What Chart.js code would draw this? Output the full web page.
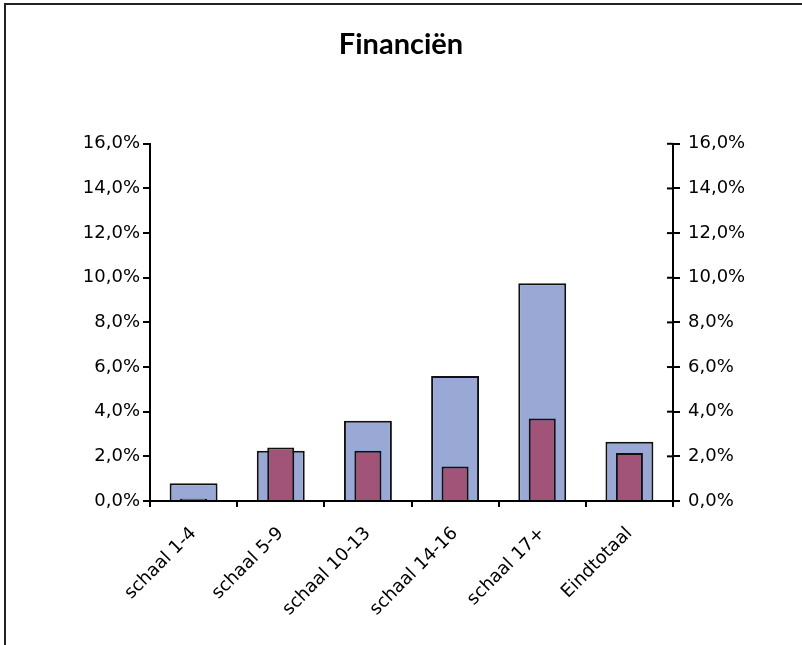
<!DOCTYPE html>
<html>
<head>
<meta charset="utf-8">
<script src="https://cdn.jsdelivr.net/npm/chart.js@4/dist/chart.umd.min.js"></script>
<style>
    body { margin: 0; background: #fff; overflow: hidden; }
    #wrap { position: relative; width: 802px; height: 645px; }
    #frame { position: absolute; left: 4px; top: 3px; width: 900px; height: 900px;
             border-left: 2px solid #222; border-top: 2px solid #222; pointer-events: none; }
    canvas { position: absolute; left: 0; top: 0; }
</style>
</head>
<body>
<div id="wrap">
    <canvas id="chart" width="802" height="645"></canvas>
    <div id="frame"></div>
</div>
<script>
// 데이터
const categories = ['schaal 1-4', 'schaal 5-9', 'schaal 10-13', 'schaal 14-16', 'schaal 17+', 'Eindtotaal'];
const seriesBlue = [0.8, 2.25, 3.6, 5.6, 9.75, 2.65];
const seriesRed = [0.1, 2.4, 2.25, 1.55, 3.7, 2.15];
const tickMin = 0;
const tickMax = 16;
const tickStep = 2;

const FONT = '"DejaVu Sans", sans-serif';
const pct = v => v.toFixed(1).replace('.', ',') + '%';

const yAxis = (pos, w, pad) => ({
    position: pos,
    min: tickMin,
    max: tickMax,
    ticks: { stepSize: tickStep, callback: pct, color: '#000', padding: pad,
             font: { family: FONT, size: 18 } },
    grid: { drawOnChartArea: false, color: '#000', lineWidth: 2, tickLength: 7 },
    border: { display: true, color: '#000', width: 2 },
    afterFit: s => { s.width = w; }
});

// 오른쪽 축 눈금이 축을 가로지르도록 안쪽 절반 그리기
const crossTicks = {
    id: 'crossTicks',
    afterDraw(chart) {
        const s = chart.scales.y2;
        const ctx = chart.ctx;
        ctx.save();
        ctx.strokeStyle = '#000';
        ctx.lineWidth = 2;
        s.ticks.forEach(t => {
            const y = s.getPixelForValue(t.value);
            ctx.beginPath();
            ctx.moveTo(s.left - 6, y);
            ctx.lineTo(s.left, y);
            ctx.stroke();
        });
        ctx.restore();
    }
};

new Chart(document.getElementById('chart'), {
    type: 'bar',
    data: {
        labels: categories,
        datasets: [
            { label: 'A', data: seriesBlue, backgroundColor: '#99A8D5', borderColor: '#111',
              borderWidth: 2, barPercentage: 0.55, categoryPercentage: 1, grouped: false,
              order: 2, yAxisID: 'y' },
            { label: 'B', data: seriesRed, backgroundColor: '#A15478', borderColor: '#111',
              borderWidth: 2, barPercentage: 0.31, categoryPercentage: 1, grouped: false,
              order: 1, yAxisID: 'y2' }
        ]
    },
    options: {
        responsive: false,
        animation: false,
        layout: { padding: 0 },
        plugins: {
            legend: { display: false },
            tooltip: { enabled: false },
            title: {
                display: true,
                text: 'Financiën',
                color: '#000',
                font: { family: 'Lato, sans-serif', size: 29, weight: 'bold' },
                padding: { top: 27, bottom: 82 }
            }
        },
        scales: {
            x: {
                ticks: { color: '#000', minRotation: 45, maxRotation: 45, padding: 16,
                         font: { family: FONT, size: 18 } },
                grid: { drawOnChartArea: false, color: '#000', lineWidth: 2, tickLength: 6, offset: true },
                border: { display: true, color: '#000', width: 2 },
                afterFit: s => { s.height = 144; }
            },
            y: yAxis('left', 150, 3),
            y2: yAxis('right', 129, 8)
        }
    },
    plugins: [crossTicks]
});
</script>
</body>
</html>
